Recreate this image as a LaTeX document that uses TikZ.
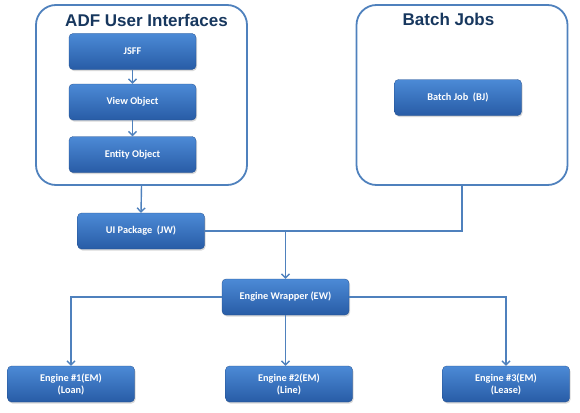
\documentclass[tikz,border=0pt]{standalone}
\usepackage{fontspec}
\setmainfont{Carlito}
\newfontfamily\titlefont{Liberation Sans}
\usetikzlibrary{arrows.meta, shadows}
\definecolor{boxtop}{RGB}{76,138,214}
\definecolor{boxbot}{RGB}{40,92,166}
\definecolor{frame}{RGB}{79,129,189}
\definecolor{navy}{RGB}{23,55,94}

\begin{document}
\begin{tikzpicture}[x=1pt, y=-1pt,
		box/.style={rounded corners=4pt, top color=boxtop, bottom color=boxbot, draw=boxbot!85!black, line width=0.3pt, minimum width=127pt, minimum height=36pt, align=center, text=white, font=\bfseries\fontsize{10.3}{12}\selectfont, drop shadow={opacity=0.3, shadow xshift=1pt, shadow yshift=-1.5pt}},
		group/.style={draw=frame, line width=1.8pt, rounded corners=20pt, minimum width=211pt, minimum height=180pt},
		title/.style={text=navy, font=\titlefont\bfseries\fontsize{17}{20}\selectfont},
		line/.style={draw=frame, line width=1.4pt},
		arrow/.style={line, -{Straight Barb[length=4pt,width=8pt]}}
	]
	\useasboundingbox (0,0) rectangle (580,412);

	% containers
	\node[group] (adf) at (141.5, 95) {};
	\node[title] (adftitle) at (146.5, 20) {ADF User Interfaces};
	\node[group] (batch) at (462, 95) {};
	\node[title] (batchtitle) at (448.5, 19) {Batch Jobs};

	% ADF stack
	\node[box] (jsff) at (132.5, 51.5) {JSFF};
	\node[box] (viewobj) at (132.5, 102) {View Object};
	\node[box] (entityobj) at (132.5, 154.5) {Entity Object};
	\draw[arrow] (jsff.south) -- (viewobj.north);
	\draw[arrow] (viewobj.south) -- (entityobj.north);

	% batch
	\node[box] (batchjob) at (458, 97.5) {Batch Job\ \ (BJ)};

	% middle
	\node[box] (uipkg) at (141, 231) {UI Package\ \ (JW)};
	\node[box] (wrapper) at (285.5, 297) {Engine Wrapper (EW)};
	\draw[arrow] (adf.south) -- (uipkg.north);
	\draw[line] (uipkg.east) -| (batch.south);
	\coordinate (junc) at (wrapper.north |- uipkg.east);
	\draw[arrow] (junc) -- (wrapper.north);

	% engines
	\foreach \x/\t [count=\i] in {71/Loan,289/Line,506/Lease} {
		\node[box] (engine-\i) at (\x, 384) {Engine \#\i(EM)\\(\t)};
	}
	\draw[arrow] (wrapper.west) -| (engine-1.north);
	\draw[arrow] (wrapper.east) -| (engine-3.north);
	\draw[arrow] (wrapper.south) -- (wrapper.south |- engine-2.north);

\end{tikzpicture}
\end{document}
